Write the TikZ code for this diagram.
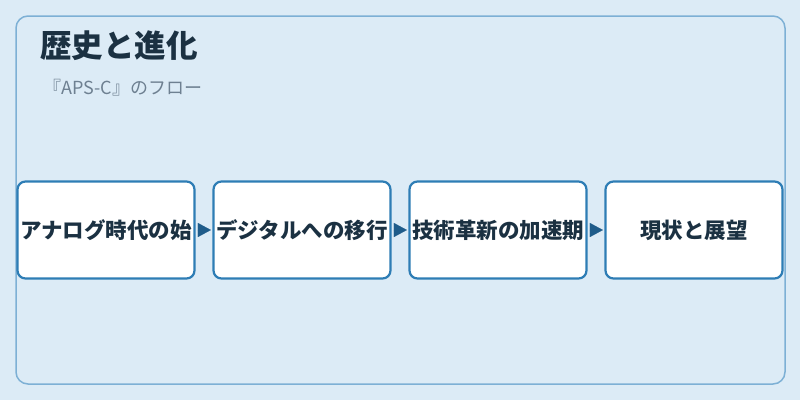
\documentclass[tikz,border=0pt]{standalone}
\usepackage{fontspec}
\setmainfont{Noto Sans CJK JP}
\usepackage{tikz}
\usetikzlibrary{arrows.meta,positioning}

\definecolor{bgblue}{HTML}{DCEBF6}
\definecolor{framecol}{HTML}{7DB0D5}
\definecolor{boxline}{HTML}{2E7DB5}
\definecolor{titlecol}{HTML}{1B3142}
\definecolor{subcol}{HTML}{6E8091}
\definecolor{arrowcol}{HTML}{1F5C8A}

\begin{document}
\begin{tikzpicture}[x=1pt, y=-1pt, -{Triangle[length=13pt,width=14pt]}, node distance=196pt]
        \tikzstyle{every node}=[inner sep=0pt]
        \tikzstyle{stage}=[draw=boxline, fill=white, line width=2.2pt, rounded corners=8pt,
            minimum width=177pt, minimum height=97pt, text=titlecol,
            font=\fontsize{21.5pt}{24pt}\selectfont\bfseries]

        \useasboundingbox[fill=bgblue] (0,0) rectangle (800,400);
        \draw[-, framecol, line width=1.5pt, rounded corners=12pt] (16,16) rectangle (785,384);

        \node[anchor=west, text=titlecol, font=\fontsize{31.5pt}{35pt}\selectfont\bfseries] (title) at (40,46) {歴史と進化};
        \node[anchor=west, text=subcol, font=\fontsize{18pt}{21pt}\selectfont] (sub) at (43,88) {『APS-C』のフロー};

        \node[stage]    (A) at (106,230)        {アナログ時代の始};
        \node[stage]    (B)[right of=A]         {デジタルへの移行};
        \node[stage]    (C)[right of=B]         {技術革新の加速期};
        \node[stage]    (D)[right of=C]         {現状と展望};

        \path[draw=arrowcol, fill=arrowcol, line width=0.1pt, shorten <=2pt, shorten >=1.5pt]
        (A) edge (B)
        (B) edge (C)
        (C) edge (D);
    \end{tikzpicture}
\end{document}
